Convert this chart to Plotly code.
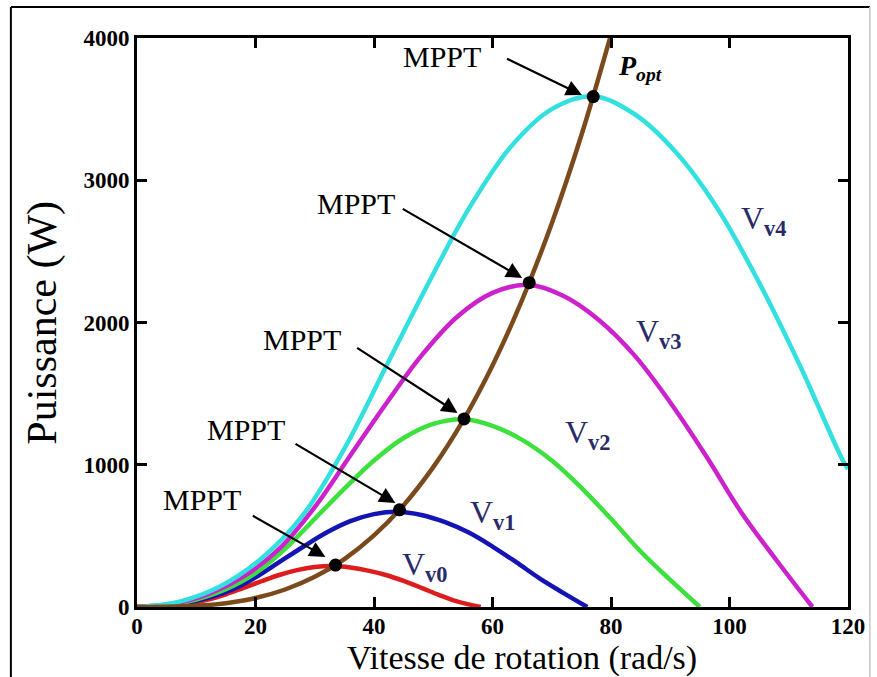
import plotly.graph_objects as go

# ---------------- data ----------------
w_v0 = [0, 3, 6, 9, 12, 15, 18, 21, 24, 27, 30, 33, 36, 39, 42, 45, 48, 51, 54, 58]
p_v0 = [0, 3, 12, 27, 52, 89, 135, 181, 225, 259, 281, 288, 278, 256, 225, 183, 135, 84, 40, 0]

w_v1 = [0, 4, 8, 12, 16, 20, 24, 28, 32, 36, 40, 44, 48, 52, 56, 60, 64, 68, 72, 76]
p_v1 = [0, 7, 27, 64, 121, 208, 315, 422, 523, 603, 653, 670, 647, 596, 523, 425, 315, 200, 98, 0]

w_v2 = [0, 5, 10, 15, 20, 25, 30, 35, 40, 45, 50, 55, 60, 65, 70, 75, 80, 85, 90, 95]
p_v2 = [0, 13, 53, 125, 238, 409, 620, 832, 1030, 1188, 1287, 1320, 1274, 1175, 1030, 838, 620, 390, 190, 0]

w_v3 = [0, 6, 12, 18, 24, 30, 36, 42, 48, 54, 60, 66, 72, 78, 84, 90, 96, 102, 108, 114]
p_v3 = [0, 23, 91, 215, 408, 702, 1065, 1427, 1767, 2039, 2208, 2265, 2186, 2016, 1767, 1438, 1065, 665, 325, 0]

w_v4 = [0, 7, 14, 21, 28, 35, 42, 49, 56, 63, 70, 77, 84, 91, 98, 105, 112, 119, 120]
p_v4 = [0, 36, 144, 341, 646, 1113, 1687, 2262, 2800, 3231, 3500, 3590, 3464, 3195, 2800, 2280, 1687, 1041, 970]

w_opt = [0, 5, 10, 15, 20, 25, 30, 35, 40, 45, 50, 55, 60, 65, 70, 75, 80]
p_opt = [0, 1, 8, 27, 63, 123, 212, 337, 503, 716, 983, 1308, 1698, 2159, 2696, 3316, 4024]

mppt_w = [33.5, 44.3, 55.2, 66.2, 77.0]
mppt_p = [295, 683, 1322, 2280, 3588]

x_ticks = [0, 20, 40, 60, 80, 100, 120]
y_ticks = [0, 1000, 2000, 3000, 4000]

curve_names = ["Vv0", "Vv1", "Vv2", "Vv3", "Vv4"]
curve_colors = ["#dd1c1c", "#1414b4", "#3ee03e", "#cc22cc", "#33e0e0"]
opt_color = "#7b4a1c"

# annotation anchors (data coordinates)
mppt_text_pos = [(10.9, 759), (18.4, 1251), (27.8, 1884), (36.9, 2840), (51.4, 3873)]
arrow_tail = [(19.3, 647), (26.5, 1153), (36.9, 1828), (44.6, 2805), (62.2, 3859)]
arrow_head = [(31.8, 352), (43.6, 731), (54.1, 1364), (65.0, 2313), (75.1, 3599)]
vlabel_pos = [(44.4, 282), (55.8, 648), (71.9, 1215), (83.8, 1920), (101.6, 2720)]
vlabel_sub = ["v0", "v1", "v2", "v3", "v4"]

# ---------------- figure ----------------
fig = go.Figure()
series = [(w_v0, p_v0), (w_v1, p_v1), (w_v2, p_v2), (w_v3, p_v3), (w_v4, p_v4)]
for (w, p), name, col in zip(series, curve_names, curve_colors):
    fig.add_trace(go.Scatter(x=w, y=p, mode="lines", name=name,
                             line=dict(color=col, width=4.5, shape="spline", smoothing=1.0),
                             showlegend=False, hoverinfo="skip"))

fig.add_trace(go.Scatter(x=w_opt, y=p_opt, mode="lines", name="Popt",
                         line=dict(color=opt_color, width=4.5, shape="spline"),
                         showlegend=False, hoverinfo="skip"))

fig.add_trace(go.Scatter(x=mppt_w, y=mppt_p, mode="markers", name="MPPT",
                         marker=dict(color="black", size=13),
                         showlegend=False, hoverinfo="skip", cliponaxis=False))

serif = "Liberation Serif, Times New Roman, serif"
annotations = []
for (tx, ty), (ax_, ay_), (hx, hy) in zip(mppt_text_pos, arrow_tail, arrow_head):
    annotations.append(dict(x=tx, y=ty, xref="x", yref="y", text="MPPT",
                            showarrow=False, font=dict(family=serif, size=30, color="black")))
    annotations.append(dict(x=hx, y=hy, ax=ax_, ay=ay_, xref="x", yref="y",
                            axref="x", ayref="y", text="", showarrow=True,
                            arrowhead=2, arrowsize=1.45, arrowwidth=2.2,
                            arrowcolor="black", standoff=0, startstandoff=0))

for (vx, vy), sub in zip(vlabel_pos, vlabel_sub):
    annotations.append(dict(x=vx, y=vy, xref="x", yref="y",
                            text="V<sub><b>%s</b></sub>" % sub, showarrow=False,
                            xanchor="left", yanchor="middle",
                            font=dict(family=serif, size=32, color="#2a2a68")))

annotations.append(dict(x=80.9, y=3790, xref="x", yref="y",
                        text="<b><i>P<sub>opt</sub></i></b>", showarrow=False,
                        xanchor="left", yanchor="middle",
                        font=dict(family=serif, size=28, color="black")))

# axis titles
annotations.append(dict(x=(525 - 137) / 716, y=(607 - 658) / 569, xref="paper", yref="paper",
                        text="Vitesse de rotation (rad/s)", showarrow=False,
                        xanchor="center", yanchor="middle",
                        font=dict(family=serif, size=34, color="black")))
annotations.append(dict(x=(41 - 137) / 716, y=(607 - 323) / 569, xref="paper", yref="paper",
                        text="Puissance (W)", showarrow=False, textangle=-90,
                        xanchor="center", yanchor="middle",
                        font=dict(family=serif, size=42, color="black")))

shapes = [
    dict(type="line", xref="paper", yref="paper",
         x0=(10 - 137) / 716, x1=(10 - 137) / 716, y0=(607 - 720) / 569, y1=(607 - 7) / 569,
         line=dict(color="black", width=2), layer="below"),
    dict(type="line", xref="paper", yref="paper",
         x0=(10 - 137) / 716, x1=(875 - 137) / 716, y0=(607 - 7) / 569, y1=(607 - 7) / 569,
         line=dict(color="black", width=2), layer="below"),
    dict(type="line", xref="paper", yref="paper",
         x0=(875 - 137) / 716, x1=(875 - 137) / 716, y0=(607 - 720) / 569, y1=(607 - 7) / 569,
         line=dict(color="#c8c8c8", width=1.5), layer="below"),
]

axis_common = dict(showgrid=False, zeroline=False, showline=True, linecolor="black",
                   linewidth=3, mirror="ticks", ticks="inside", ticklen=10, tickwidth=3,
                   tickcolor="black",
                   tickfont=dict(family=serif, size=23, color="black", weight="bold"))

fig.update_layout(
    width=877, height=677,
    margin=dict(l=137, r=24, t=38, b=70),
    paper_bgcolor="white", plot_bgcolor="white",
    xaxis=dict(range=[0, 120], tickvals=x_ticks, **axis_common),
    yaxis=dict(range=[0, 4000], tickvals=y_ticks, **axis_common),
    annotations=annotations, shapes=shapes, showlegend=False,
)
fig.update_xaxes(ticklabelstandoff=-4)
fig.update_yaxes(ticklabelstandoff=0)

fig.write_html("out.html")
